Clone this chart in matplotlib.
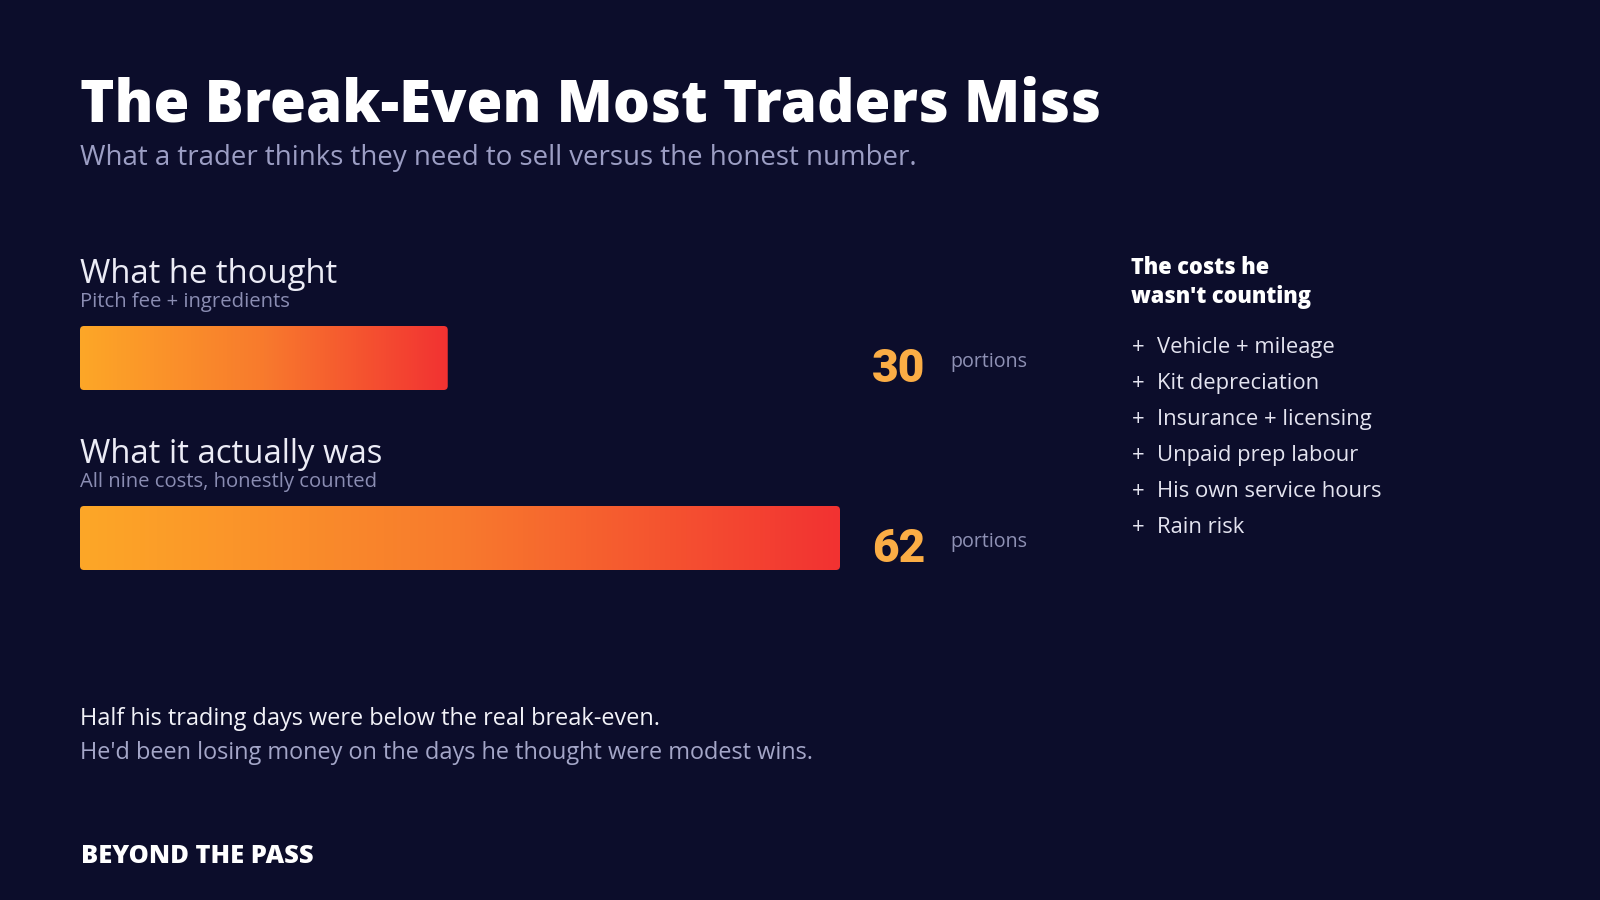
import matplotlib
matplotlib.use("Agg")
import matplotlib.pyplot as plt
import numpy as np
from matplotlib.patches import FancyBboxPatch
from matplotlib.colors import LinearSegmentedColormap

# ---------------- data ----------------
title = "The Break-Even Most Traders Miss"
subtitle = "What a trader thinks they need to sell versus the honest number."
categories = ["What he thought", "What it actually was"]
notes = ["Pitch fee + ingredients", "All nine costs, honestly counted"]
portions = [30, 62]
unit_label = "portions"
side_heading = ["The costs he", "wasn't counting"]
hidden_costs = ["Vehicle + mileage", "Kit depreciation", "Insurance + licensing",
                "Unpaid prep labour", "His own service hours", "Rain risk"]
takeaway = ["Half his trading days were below the real break-even.",
            "He'd been losing money on the days he thought were modest wins."]
brand = "BEYOND THE PASS"

# ---------------- style ----------------
BG = "#0c0d2b"
FONT = ["Open Sans", "DejaVu Sans"]
NUMFONT = ["Roboto", "DejaVu Sans"]
W, H = 1600, 900

fig = plt.figure(figsize=(16, 9), dpi=100)
fig.patch.set_facecolor(BG)
renderer = fig.canvas.get_renderer()


def fit_size(s, target_w, weight="normal", family=FONT, size0=20):
    t = fig.text(0, 0, s, fontsize=size0, fontweight=weight, family=family)
    w = t.get_window_extent(renderer).width
    t.remove()
    return size0 * target_w / w


def put(x, y, s, size, color, weight="normal", family=FONT, ha="left"):
    return fig.text(x / W, 1 - y / H, s, fontsize=size, fontweight=weight,
                    family=family, color=color, ha=ha, va="baseline")


# title block
put(80, 122, title, fit_size(title, 1020, "heavy"), "#ffffff", "heavy")
put(80, 165, subtitle, fit_size(subtitle, 835), "#9c9ec4")

# bar axes
ax_left, ax_top, ax_w, ax_h = 80, 268, 760, 360
ax = fig.add_axes([ax_left / W, 1 - (ax_top + ax_h) / H, ax_w / W, ax_h / H])
ax.set_facecolor("none")
ax.axis("off")
ypos = np.arange(len(portions))
px_x = ax_w / max(portions)
px_y = ax_h / len(portions)
bar_h = 64 / px_y
bars = ax.barh(ypos, portions, height=bar_h, color="none", edgecolor="none")

cmap = LinearSegmentedColormap.from_list("g", ["#fda727", "#f87a2d", "#f23232"])
grad = np.linspace(0, 1, 256).reshape(1, -1)
r_px = 4
for rect in bars:
    x0, y0, w, h = rect.get_x(), rect.get_y(), rect.get_width(), rect.get_height()
    patch = FancyBboxPatch((x0, y0), w, h,
                           boxstyle=f"round,pad=0,rounding_size={r_px / px_x}",
                           mutation_aspect=px_x / px_y,
                           facecolor="none", edgecolor="none",
                           transform=ax.transData)
    ax.add_patch(patch)
    im = ax.imshow(grad, extent=[x0, x0 + w, y0 + h, y0], aspect="auto",
                   cmap=cmap, zorder=2, interpolation="bicubic")
    im.set_clip_path(patch)
ax.set_xlim(0, max(portions))
ax.set_ylim(len(portions) - 0.5, -0.5)

head_size = fit_size(categories[1], 303, "medium")
note_size = fit_size(notes[1], 297)
num_size = fit_size("62", 53, "heavy", NUMFONT)
unit_size = fit_size(unit_label, 77)
for i, (cat, note, val) in enumerate(zip(categories, notes, portions)):
    cy = ax_top + px_y * (i + 0.5)
    put(80, cy - 75, cat, head_size, "#ececf6", "medium")
    put(80, cy - 51, note, note_size, "#8b8db3")
    put(872, cy + 24, f"{val}", num_size, "#fbad45", "heavy", NUMFONT)
    put(950, cy + 9, unit_label, unit_size, "#8f91b5")

# side panel
side_size = fit_size(side_heading[1], 181, "heavy")
put(1131, 274, side_heading[0], side_size, "#ffffff", "heavy")
put(1131, 303, side_heading[1], side_size, "#ffffff", "heavy")
list_size = fit_size(hidden_costs[4], 224)
for k, item in enumerate(hidden_costs):
    yb = 353 + 36 * k
    put(1132, yb, "+", list_size, "#e4e4f0")
    put(1157, yb, item, list_size, "#e4e4f0")

# takeaway
tk_size = fit_size(takeaway[1], 734)
put(80, 725, takeaway[0], tk_size, "#f2f2f8")
put(80, 759, takeaway[1], tk_size, "#a4a6c8")

put(81, 863, brand, fit_size(brand, 232, "heavy"), "#ffffff", "heavy")

fig.savefig("out.png", dpi=100, facecolor=BG)
